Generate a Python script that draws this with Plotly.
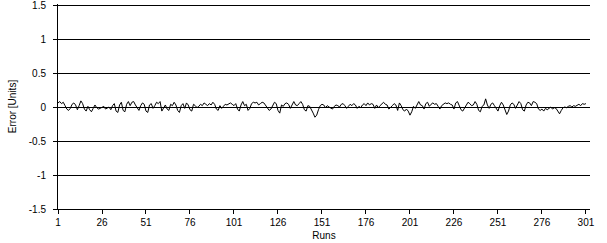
import plotly.graph_objects as go

runs = list(range(1, 302))

seg1 = [0.06, 0.08, 0.05, 0.07, 0.02, -0.03, -0.05, -0.02, 0.04, 0.06, 0.03, -0.04, 0.02, 0.09, 0.05, -0.03, -0.06, 0.01, -0.04, -0.07, -0.02, 0.03, -0.01, -0.03, -0.02]
seg2 = [-0.01, 0.01, -0.03, -0.02, 0.0, -0.04, 0.02, 0.05, -0.06, -0.08, 0.03, 0.07, -0.05, -0.07, 0.04, 0.08, 0.02, 0.07, 0.08, 0.03, -0.01, -0.05, 0.02, 0.06, 0.04]
seg3 = [-0.06, -0.08, 0.03, 0.05, -0.02, 0.02, 0.07, 0.05, 0.08, -0.06, -0.02, 0.03, -0.03, -0.05, 0.04, 0.02, 0.07, 0.03, -0.05, -0.08, 0.02, 0.05, -0.02, 0.06, 0.03]
seg4 = [-0.04, -0.06, 0.04, 0.02, -0.01, 0.01, 0.04, 0.02, 0.06, 0.04, 0.02, 0.05, 0.03, 0.07, 0.04, -0.03, -0.05, 0.02, -0.02, 0.01, 0.04, 0.03, 0.05, 0.06, 0.04]
seg5 = [0.02, 0.05, -0.03, -0.06, 0.03, 0.08, 0.02, 0.04, -0.05, -0.02, 0.05, 0.07, 0.06, 0.07, 0.03, 0.05, 0.07, 0.06, 0.02, -0.03, -0.05, -0.03, 0.02, 0.07, 0.05]
seg6 = [-0.05, -0.09, 0.03, 0.01, 0.05, 0.06, 0.04, -0.02, 0.03, 0.08, 0.03, 0.02, 0.05, 0.08, 0.04, -0.04, -0.06, 0.02, 0.01, -0.03, -0.09, -0.15, -0.12, -0.04, 0.02]
seg7 = [0.04, 0.03, -0.01, 0.02, 0.0, -0.01, -0.03, 0.01, 0.03, 0.02, 0.0, 0.04, 0.05, 0.02, -0.02, 0.01, 0.04, 0.02, 0.05, 0.03, -0.02, 0.01, -0.01, 0.03, 0.05]
seg8 = [0.02, 0.06, 0.03, 0.05, 0.04, -0.02, 0.03, -0.01, 0.02, 0.05, 0.07, 0.04, 0.03, -0.03, -0.01, 0.02, 0.05, 0.03, -0.05, 0.06, 0.02, -0.04, -0.06, -0.03, -0.06]
seg9 = [-0.12, -0.07, 0.01, -0.02, 0.02, 0.08, 0.03, 0.02, -0.03, 0.05, 0.07, 0.01, 0.04, 0.06, 0.04, 0.05, 0.01, -0.03, 0.02, 0.04, 0.06, 0.05, 0.06, 0.04, 0.03]
seg10 = [-0.03, 0.06, 0.08, 0.02, -0.04, -0.06, -0.02, 0.04, 0.07, 0.05, 0.02, 0.03, 0.08, 0.04, -0.05, -0.07, 0.01, 0.03, 0.12, 0.03, -0.02, 0.04, 0.06, 0.02, -0.03]
seg11 = [-0.06, 0.02, 0.07, 0.03, -0.05, -0.11, -0.06, 0.03, 0.06, 0.04, -0.02, 0.02, 0.08, 0.05, -0.04, -0.06, 0.03, 0.07, 0.06, 0.02, 0.08, 0.07, 0.05, -0.03, -0.05]
seg12 = [-0.03, -0.06, -0.02, -0.04, -0.02, 0.0, -0.03, -0.01, -0.02, -0.06, -0.1, -0.05, -0.01, 0.0, -0.01, 0.01, 0.02, 0.0, 0.02, 0.01, 0.03, 0.04, 0.02, 0.05, 0.04, 0.05]

error = seg1 + seg2 + seg3 + seg4 + seg5 + seg6 + seg7 + seg8 + seg9 + seg10 + seg11 + seg12

x_ticks = list(range(1, 302, 25))
y_ticks = [-1.5, -1, -0.5, 0, 0.5, 1, 1.5]
y_labels = ["-1.5", "-1", "-0.5", "0", "0.5", "1", "1.5"]

fig = go.Figure()
fig.add_trace(go.Scatter(x=runs, y=error, mode="lines",
                         line=dict(color="black", width=1), showlegend=False))

font = dict(family="Liberation Sans, Arial, sans-serif", size=10, color="black")

fig.update_layout(
    width=607, height=243,
    margin=dict(l=58, r=17, t=4, b=34),
    paper_bgcolor="white", plot_bgcolor="white",
    font=font,
    xaxis=dict(range=[1, 303.3], tickvals=x_ticks, ticktext=[str(t) for t in x_ticks],
               showgrid=False, zeroline=False, showline=True, linecolor="black", linewidth=1,
               ticks="outside", ticklen=4, tickcolor="black",
               title=dict(text="Runs", standoff=4, font=font), automargin=False),
    yaxis=dict(range=[-1.5, 1.515], tickvals=y_ticks, ticktext=y_labels,
               showgrid=True, gridcolor="black", gridwidth=1, zeroline=False,
               showline=True, linecolor="black", linewidth=1,
               ticks="outside", ticklen=4, tickcolor="black", ticklabelstandoff=5,
               ticklabeloverflow="allow",
               title=dict(text="Error [Units]", standoff=10, font=font), automargin=False),
)

fig.write_html("out.html")
